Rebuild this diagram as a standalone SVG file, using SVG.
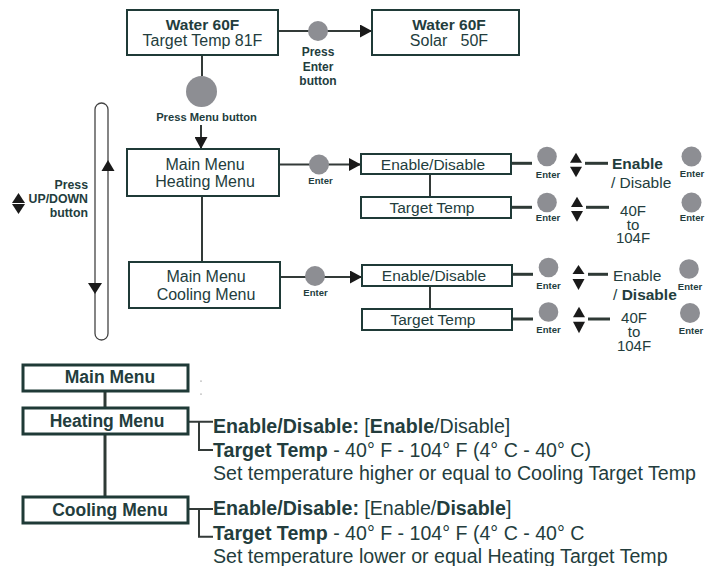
<svg xmlns="http://www.w3.org/2000/svg" width="725" height="566" viewBox="0 0 725 566">
<defs>
<style>
.t{font-family:"Liberation Sans",Arial,sans-serif;fill:#233d3d}
.b{font-weight:bold}
.box{fill:#fff;stroke:#1f3a37;stroke-width:2}
.box3{fill:#fff;stroke:#1f3a37;stroke-width:3}
.ln{stroke:#333a38;stroke-width:2;fill:none}
.lt{stroke:#2f3a36;stroke-width:3;fill:none}
.btn{fill:#8d8e93}
.tri{fill:#1a1a1a}
.en{font-size:9.5px;font-weight:bold;text-anchor:middle}
.m{text-anchor:middle}
.d{font-size:19.6px}
</style>
<marker id="ah" markerWidth="12" markerHeight="13" refX="12" refY="6.5" orient="auto" markerUnits="userSpaceOnUse">
<path d="M0,0 L12,6.5 L0,13 Z" fill="#1a1a1a"/>
</marker>
</defs>
<rect width="725" height="566" fill="#fff"/>

<g id="connectors">
<line class="ln" x1="278" y1="31" x2="372" y2="31" marker-end="url(#ah)"/>
<line class="ln" x1="202" y1="55" x2="202" y2="76"/>
<line class="ln" x1="201" y1="125" x2="201" y2="149" marker-end="url(#ah)"/>
<line class="ln" x1="279" y1="164.5" x2="361" y2="164.5" marker-end="url(#ah)"/>
<line class="ln" x1="280" y1="277" x2="362" y2="277" marker-end="url(#ah)"/>
<line class="ln" x1="202" y1="196" x2="202" y2="262"/>
<line class="ln" x1="430" y1="174" x2="430" y2="197"/>
<line class="ln" x1="430" y1="286" x2="430" y2="309"/>
<line class="lt" x1="511" y1="163.3" x2="532" y2="163.3"/>
<line class="lt" x1="585" y1="163.3" x2="608" y2="163.3"/>
<line class="lt" x1="511" y1="207.3" x2="532" y2="207.3"/>
<line class="lt" x1="586" y1="207.3" x2="609" y2="207.3"/>
<line class="lt" x1="512" y1="274.3" x2="533" y2="274.3"/>
<line class="lt" x1="588" y1="274.3" x2="608" y2="274.3"/>
<line class="lt" x1="512" y1="319" x2="533" y2="319"/>
<line class="lt" x1="588" y1="319" x2="610" y2="319"/>
<line class="lt" x1="105" y1="391" x2="105" y2="408"/>
<line class="lt" x1="105" y1="434" x2="105" y2="497"/>
<path class="ln" d="M188,421.7 H213 M199,421.7 V450 H213"/>
<path class="ln" d="M188,509 H213 M199,509 V536.7 H213"/>
</g>

<g id="loop">
<rect x="95" y="103" width="13" height="237" rx="6.5" fill="none" stroke="#444" stroke-width="1.3"/>
<path class="tri" d="M108,160 L114.5,171 L101.5,171 Z"/>
<path class="tri" d="M88,283 L102,283 L95,294 Z"/>
<path class="tri" d="M18.5,193 L25,203 L12,203 Z"/>
<path class="tri" d="M12,204 L25,204 L18.5,214 Z"/>
<text class="t b" font-size="12.3" text-anchor="end" x="88" y="189">Press</text>
<text class="t b" font-size="12.3" text-anchor="end" x="88" y="203">UP/DOWN</text>
<text class="t b" font-size="12.3" text-anchor="end" x="88" y="217">button</text>
</g>

<g id="n-home">
<rect class="box" x="127" y="10" width="151" height="45"/>
<text class="t b m" font-size="15.5" x="202.5" y="30">Water 60F</text>
<text class="t m" font-size="16" x="202.5" y="46">Target Temp 81F</text>
</g>
<g id="n-solar">
<rect class="box" x="372" y="10" width="147" height="45"/>
<text class="t b m" font-size="15.5" x="449" y="30">Water 60F</text>
<text class="t m" font-size="16" x="449" y="46" xml:space="preserve">Solar   50F</text>
</g>
<g id="b-enter-top">
<circle class="btn" cx="318" cy="31" r="10"/>
<text class="t b m" font-size="12" x="318" y="56">Press</text>
<text class="t b m" font-size="12" x="318" y="70.5">Enter</text>
<text class="t b m" font-size="12" x="318" y="85">button</text>
</g>
<g id="b-menu">
<circle class="btn" cx="201.5" cy="91.5" r="15.5"/>
<text class="t b m" font-size="11.2" x="206.5" y="120.5">Press Menu button</text>
</g>

<g id="n-heating">
<rect class="box" x="127" y="149" width="152" height="47"/>
<text class="t m" font-size="16" x="205" y="170">Main Menu</text>
<text class="t m" font-size="16" x="205" y="187">Heating Menu</text>
</g>
<g id="b-enter-h">
<circle class="btn" cx="319" cy="164.5" r="10"/>
<text class="t en" x="320.5" y="184">Enter</text>
</g>
<g id="n-cooling">
<rect class="box" x="129" y="262" width="151" height="46"/>
<text class="t m" font-size="16" x="206" y="282">Main Menu</text>
<text class="t m" font-size="16" x="206" y="300">Cooling Menu</text>
</g>
<g id="b-enter-c">
<circle class="btn" cx="315" cy="276" r="10"/>
<text class="t en" x="315.5" y="296">Enter</text>
</g>

<g id="n-h-enable">
<rect class="box" x="361" y="154" width="150" height="20"/>
<text class="t m" font-size="15.5" x="433" y="169.5">Enable/Disable</text>
</g>
<g id="n-h-target">
<rect class="box" x="361" y="197" width="150" height="21"/>
<text class="t m" font-size="15.5" x="432" y="213">Target Temp</text>
</g>
<g id="n-c-enable">
<rect class="box" x="362" y="265" width="150" height="21"/>
<text class="t m" font-size="15.5" x="434" y="281">Enable/Disable</text>
</g>
<g id="n-c-target">
<rect class="box" x="362" y="309" width="150" height="21"/>
<text class="t m" font-size="15.5" x="433" y="325">Target Temp</text>
</g>

<g id="row1">
<circle class="btn" cx="547" cy="156.5" r="9.8"/>
<text class="t en" x="548" y="178">Enter</text>
<path class="tri" d="M576,152.7 L582,162.7 L570,162.7 Z"/>
<path class="tri" d="M570,166.7 L582,166.7 L576,177.3 Z"/>
<text class="t b" font-size="15.5" x="612" y="169">Enable</text>
<text class="t" font-size="15.5" x="611" y="188">/ Disable</text>
<circle class="btn" cx="691.5" cy="156.5" r="10"/>
<text class="t en" x="692" y="177">Enter</text>
</g>
<g id="row2">
<circle class="btn" cx="547" cy="202.5" r="9.8"/>
<text class="t en" x="548" y="221">Enter</text>
<path class="tri" d="M577,196.7 L583,207 L571,207 Z"/>
<path class="tri" d="M571,211 L583,211 L577,221.7 Z"/>
<text class="t m" font-size="15" x="633" y="216">40F</text>
<text class="t m" font-size="15" x="633" y="229.5">to</text>
<text class="t m" font-size="15" x="633" y="243">104F</text>
<circle class="btn" cx="691.5" cy="202.5" r="10"/>
<text class="t en" x="692" y="221">Enter</text>
</g>
<g id="row3">
<circle class="btn" cx="548.5" cy="267.5" r="9.8"/>
<text class="t en" x="548.5" y="289">Enter</text>
<path class="tri" d="M578.5,265 L584.5,274 L572.5,274 Z"/>
<path class="tri" d="M572.5,279 L584.5,279 L578.5,290 Z"/>
<text class="t" font-size="15.5" x="613" y="281">Enable</text>
<text class="t" font-size="15.5" x="613" y="300">/ <tspan class="b">Disable</tspan></text>
<circle class="btn" cx="689" cy="269" r="9.8"/>
<text class="t en" x="690" y="290">Enter</text>
</g>
<g id="row4">
<circle class="btn" cx="548.5" cy="312" r="9.8"/>
<text class="t en" x="548.5" y="333">Enter</text>
<path class="tri" d="M579,306.7 L585,317.3 L573,317.3 Z"/>
<path class="tri" d="M573,321.7 L585,321.7 L579,333.3 Z"/>
<text class="t m" font-size="15" x="634" y="323">40F</text>
<text class="t m" font-size="15" x="634" y="336.5">to</text>
<text class="t m" font-size="15" x="634" y="351">104F</text>
<circle class="btn" cx="690" cy="313" r="10"/>
<text class="t en" x="691" y="334">Enter</text>
</g>

<g id="t-main">
<rect class="box3" x="23" y="365" width="165" height="26"/>
<text class="t b m" font-size="17.5" x="110" y="383.3">Main Menu</text>
</g>
<circle cx="201" cy="381" r="0.6" fill="#555"/>
<circle cx="201" cy="394" r="0.6" fill="#555"/>
<g id="t-heating">
<rect class="box3" x="23" y="408" width="165" height="26"/>
<text class="t b m" font-size="17.5" x="107" y="427">Heating Menu</text>
</g>
<g id="t-cooling">
<rect class="box3" x="23" y="497" width="165" height="26"/>
<text class="t b m" font-size="17.5" x="110" y="516">Cooling Menu</text>
</g>

<g id="heating-details">
<text class="t d" x="213" y="432.5"><tspan class="b">Enable/Disable: </tspan>[<tspan class="b">Enable</tspan>/Disable]</text>
<text class="t d" x="213" y="456.5"><tspan class="b">Target Temp</tspan> - 40° F - 104° F (4° C - 40° C)</text>
<text class="t d" x="213" y="480">Set temperature higher or equal to Cooling Target Temp</text>
</g>
<g id="cooling-details">
<text class="t d" x="213" y="515"><tspan class="b">Enable/Disable: </tspan>[Enable/<tspan class="b">Disable</tspan>]</text>
<text class="t d" x="213" y="539.5"><tspan class="b">Target Temp</tspan> - 40° F - 104° F (4° C - 40° C</text>
<text class="t d" x="213" y="563">Set temperature lower or equal Heating Target Temp</text>
</g>
</svg>
